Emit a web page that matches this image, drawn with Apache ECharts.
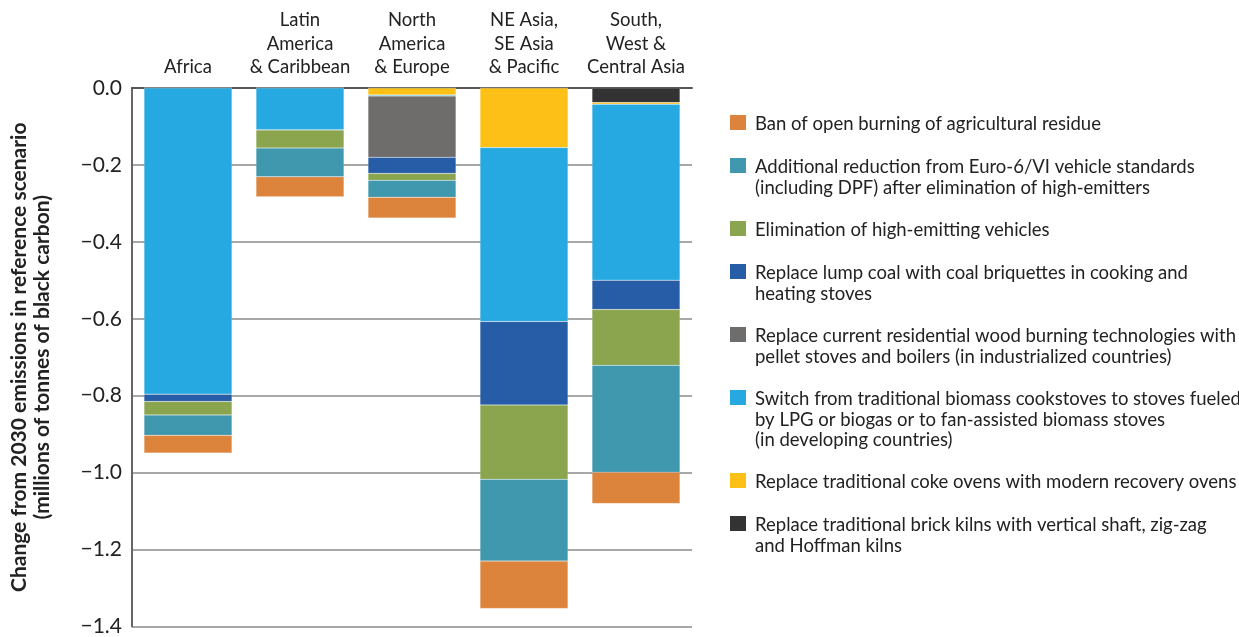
<!DOCTYPE html>
<html>
<head>
<meta charset="utf-8">
<script src="https://cdn.jsdelivr.net/npm/echarts@6/dist/echarts.min.js"></script>
<style>
html,body{margin:0;padding:0;background:#fff;}
#chart{width:1239px;height:637px;}
</style>
</head>
<body>
<div id="chart"></div>
<script>
// ---- data ----
const categories = ['Africa', 'Latin\nAmerica\n& Caribbean', 'North\nAmerica\n& Europe', 'NE Asia,\nSE Asia\n& Pacific', 'South,\nWest &\nCentral Asia'];

// stacked from 0 downward (top of bar first)
const brickKilns      = [0, 0, 0, 0, -0.038];
const cokeOvens       = [0, 0, -0.018, -0.155, -0.004];
const biomassStoves   = [-0.796, -0.109, -0.003, -0.452, -0.458];
const woodBurning     = [0, 0, -0.159, 0, 0];
const coalBriquettes  = [-0.019, 0, -0.042, -0.217, -0.076];
const highEmitters    = [-0.035, -0.047, -0.018, -0.193, -0.145];
const euro6           = [-0.053, -0.075, -0.044, -0.213, -0.278];
const openBurning     = [-0.046, -0.052, -0.054, -0.123, -0.081];

const yTicks = { min: -1.4, max: 0, interval: 0.2 };

// legend order (as in the reference, top to bottom)
const legendLabels = [
  'Ban of open burning of agricultural residue',
  'Additional reduction from Euro-6/VI vehicle standards\n(including DPF) after elimination of high-emitters',
  'Elimination of high-emitting vehicles',
  'Replace lump coal with coal briquettes in cooking and\nheating stoves',
  'Replace current residential wood burning technologies with\npellet stoves and boilers (in industrialized countries)',
  'Switch from traditional biomass cookstoves to stoves fueled\nby LPG or biogas or to fan-assisted biomass stoves\n(in developing countries)',
  'Replace traditional coke ovens with modern recovery ovens',
  'Replace traditional brick kilns with vertical shaft, zig-zag\nand Hoffman kilns'
];
const legendColors = ['#DD843C', '#4098AE', '#8AA54D', '#275CA6', '#6E6D6B', '#25A9E0', '#FCC016', '#333333'];
const legendValues = [openBurning, euro6, highEmitters, coalBriquettes, woodBurning, biomassStoves, cokeOvens, brickKilns];

// ---- build ----
const FONT = 'Lato, "Open Sans", sans-serif';
const series = [];
for (let i = legendLabels.length - 1; i >= 0; i--) {
  series.push({
    name: legendLabels[i].replace(/\n/g, ' '),
    type: 'bar',
    stack: 'total',
    barWidth: 88,
    data: legendValues[i],
    itemStyle: { color: legendColors[i], borderColor: 'rgba(255,255,255,0.3)', borderWidth: 0.5 },
    emphasis: { disabled: true }
  });
}

const graphics = [];
let legendY = 115;
legendLabels.forEach((lab, i) => {
  const lines = lab.split('\n').length;
  graphics.push({
    type: 'rect', left: 730, top: legendY,
    shape: { width: 16, height: 15 },
    style: { fill: legendColors[i] }
  });
  graphics.push({
    type: 'text', left: 755, top: legendY - 1,
    style: { text: lab, font: '18.5px ' + FONT, lineHeight: 20.5, fill: '#222' }
  });
  legendY += lines * 20 + 23;
});

const chart = echarts.init(document.getElementById('chart'), null, { renderer: 'canvas' });
chart.setOption({
  animation: false,
  backgroundColor: '#fff',
  grid: { left: 132, right: 547, top: 88, bottom: 4, containLabel: false },
  xAxis: {
    type: 'category',
    position: 'top',
    data: categories,
    axisTick: { show: false },
    axisLine: { show: true, lineStyle: { color: '#555', width: 2 } },
    axisLabel: { fontFamily: FONT, fontSize: 18.5, lineHeight: 23.5, color: '#222', margin: 9, interval: 0 }
  },
  yAxis: {
    type: 'value',
    min: yTicks.min, max: yTicks.max, interval: yTicks.interval,
    name: 'Change from 2030 emissions in reference scenario\n(millions of tonnes of black carbon)',
    nameLocation: 'middle',
    nameRotate: 90,
    nameGap: 78,
    nameTextStyle: { fontFamily: FONT, fontSize: 21, lineHeight: 23, color: '#222', fontWeight: 'bold' },
    axisLine: { show: true, lineStyle: { color: '#666', width: 2 } },
    axisTick: { show: false },
    splitLine: { show: true, lineStyle: { color: '#8a8a8a', width: 1.5 } },
    axisLabel: {
      fontFamily: FONT, fontSize: 21, color: '#222', margin: 10,
      formatter: v => v.toFixed(1).replace('-', '\u2212')
    }
  },
  series: series,
  graphic: graphics
});
</script>
</body>
</html>
